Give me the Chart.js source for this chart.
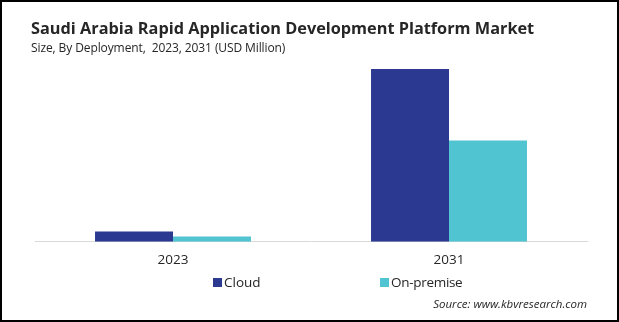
<!DOCTYPE html>
<html>
<head>
<meta charset="utf-8">
<script src="https://cdn.jsdelivr.net/npm/chart.js@4"></script>
<style>
  html, body { margin: 0; padding: 0; background: #fff; }
  #frame {
    position: relative; width: 619px; height: 322px; box-sizing: border-box;
    border: 2px solid #000; overflow: hidden; font-family: "Open Sans", sans-serif; color: #262626;
  }
  #chart { position: absolute; left: -2px; top: -2px; }
  .title { position: absolute; left: 29px; top: 15px; font-size: 16.3px; font-weight: bold; white-space: nowrap; }
  .sub { position: absolute; left: 29px; top: 37px; font-size: 12px; white-space: nowrap; letter-spacing: -0.1px; }
  .legend { position: absolute; top: 271px; font-size: 13.5px; white-space: nowrap; display: flex; align-items: center; }
  .legend i { display: inline-block; width: 9px; height: 9px; margin-right: 2px; }
  .source { position: absolute; right: 30px; top: 294px; font-size: 11.5px; font-style: italic; white-space: nowrap; }
</style>
</head>
<body>
<div id="frame">
  <canvas id="chart" width="619" height="322"></canvas>
  <div class="title">Saudi Arabia Rapid Application Development Platform Market</div>
  <div class="sub">Size, By Deployment,&nbsp; 2023, 2031 (USD Million)</div>
  <div class="legend" style="left:211px"><i style="background:#2b3990"></i>Cloud</div>
  <div class="legend" style="left:378px;letter-spacing:-0.3px"><i style="background:#50c4d0"></i>On-premise</div>
  <div class="source">Source: www.kbvresearch.com</div>
</div>
<script>
// Data
const years = ["2023", "2031"];
const cloudValues = [10.2, 172.0];
const onPremiseValues = [5.2, 101.0];

const ctx = document.getElementById("chart");

new Chart(ctx, {
  type: "bar",
  data: {
    labels: years,
    datasets: [
      { label: "Cloud", data: cloudValues, backgroundColor: "#2b3990" },
      { label: "On-premise", data: onPremiseValues, backgroundColor: "#50c4d0" }
    ]
  },
  options: {
    responsive: false,
    animation: false,
    layout: { padding: { left: 35, right: 32, top: 41, bottom: 44 } },
    datasets: { bar: { barPercentage: 1, categoryPercentage: 0.565 } },
    plugins: { legend: { display: false }, tooltip: { enabled: false } },
    scales: {
      y: { display: false, min: 0, max: 200 },
      x: {
        grid: { display: false, drawTicks: false },
        border: { color: "#d9d9d9", width: 1 },
        ticks: { color: "#262626", padding: 10, font: { family: "Open Sans", size: 13.5 } }
      }
    }
  }
});
</script>
</body>
</html>
